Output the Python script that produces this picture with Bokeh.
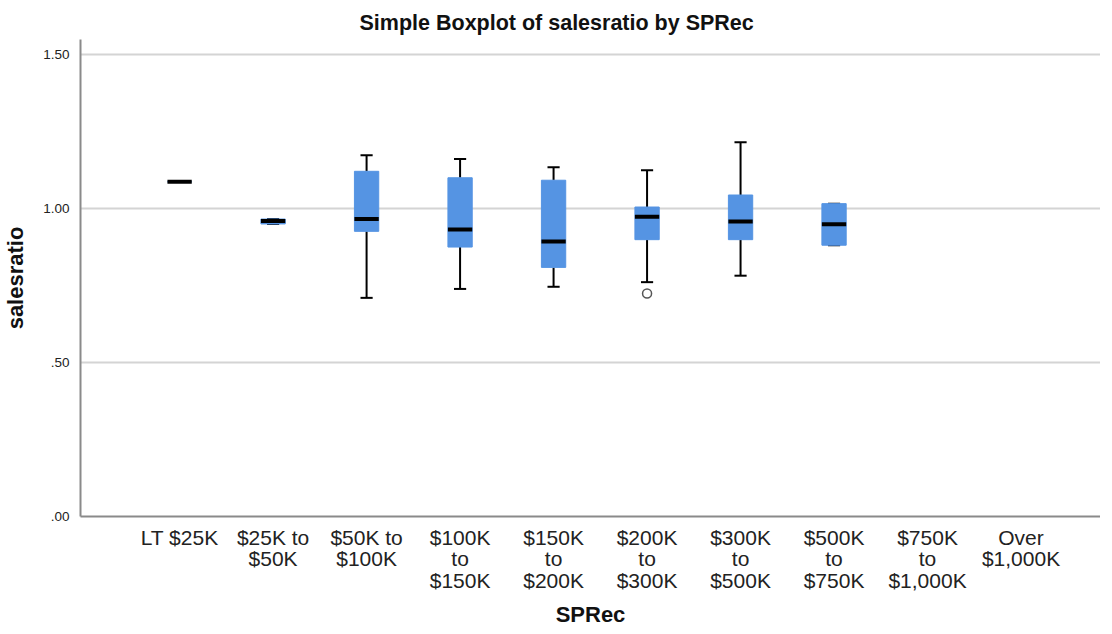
from bokeh.plotting import figure
from bokeh.models import Range1d, FixedTicker, ColumnDataSource
from bokeh.transform import dodge
from bokeh.embed import file_html
from bokeh.resources import INLINE

# ---- data ----
categories = ["LT $25K", "$25K to\n$50K", "$50K to\n$100K", "$100K\nto\n$150K",
              "$150K\nto\n$200K", "$200K\nto\n$300K", "$300K\nto\n$500K",
              "$500K\nto\n$750K", "$750K\nto\n$1,000K", "Over\n$1,000K"]
nan = float("nan")
lower_whisker = [1.087, 0.950, 0.710, 0.739, 0.746, 0.761, 0.782, 0.881, nan, nan]
q1            = [1.087, 0.950, 0.926, 0.875, 0.809, 0.899, 0.899, 0.881, nan, nan]
median        = [1.087, 0.960, 0.966, 0.932, 0.893, 0.973, 0.958, 0.949, nan, nan]
q3            = [1.087, 0.966, 1.121, 1.100, 1.092, 1.005, 1.044, 1.016, nan, nan]
upper_whisker = [1.087, 0.966, 1.173, 1.161, 1.134, 1.124, 1.215, 1.016, nan, nan]
outlier_cat = [6]
outlier_val = [0.724]

xs = list(range(1, len(categories) + 1))
box_w = 0.26
cap_w = 0.13

p = figure(frame_width=1020, frame_height=477, output_backend="svg", toolbar_location=None,
           x_range=Range1d(-0.06, 10.85), y_range=Range1d(0, 1.549),
           min_border_left=75, min_border_top=39, min_border_bottom=98, min_border_right=0)
p.outline_line_color = None
p.background_fill_color = "white"
p.border_fill_color = "white"

# title
p.title.text = "Simple Boxplot of salesratio by SPRec"
p.title.align = "left"
p.title.offset = 279
p.title.text_font = "Liberation Sans"
p.title.text_font_size = "21.5px"
p.title.text_font_style = "bold"
p.title.text_color = "#111111"

# axes
p.xaxis.ticker = FixedTicker(ticks=xs)
p.xaxis.major_label_overrides = {x: c for x, c in zip(xs, categories)}
p.yaxis.ticker = FixedTicker(ticks=[0, 0.5, 1.0, 1.5])
p.yaxis.major_label_overrides = {0: ".00", 0.5: ".50", 1.0: "1.00", 1.5: "1.50"}
for ax in (p.xaxis, p.yaxis):
    ax.axis_line_color = "#8a8a8a"
    ax.axis_line_width = 2
    ax.major_tick_line_color = None
    ax.minor_tick_line_color = None
    ax.major_label_text_font = "Liberation Sans"
    ax.major_label_text_color = "#222222"
    ax.axis_label_text_font = "Liberation Sans"
    ax.axis_label_text_font_style = "bold"
    ax.axis_label_text_color = "#111111"
    ax.axis_label_text_font_size = "22px"
p.xaxis.major_label_text_font_size = "21px"
p.xaxis.major_label_text_line_height = 0.95
p.xaxis.major_label_standoff = 3
p.xaxis.axis_label = "SPRec"
p.xaxis.axis_label_standoff = 7
p.yaxis.major_label_text_font_size = "13.5px"
p.yaxis.major_label_standoff = 5
p.yaxis.axis_label = "salesratio"
p.yaxis.axis_label_standoff = 12

p.xgrid.grid_line_color = None
p.ygrid.grid_line_color = "#d4d4d4"
p.ygrid.grid_line_width = 2

src = ColumnDataSource(dict(x=xs, lw=lower_whisker, q1=q1, med=median, q3=q3, uw=upper_whisker))

# whiskers
p.segment(x0="x", y0="q3", x1="x", y1="uw", source=src, line_color="black", line_width=2)
p.segment(x0="x", y0="lw", x1="x", y1="q1", source=src, line_color="black", line_width=2)
# caps
p.segment(x0=dodge("x", -cap_w / 2), y0="uw", x1=dodge("x", cap_w / 2), y1="uw", source=src,
          line_color="black", line_width=2)
p.segment(x0=dodge("x", -cap_w / 2), y0="lw", x1=dodge("x", cap_w / 2), y1="lw", source=src,
          line_color="black", line_width=2)
# boxes
p.vbar(x="x", width=box_w, bottom="q1", top="q3", source=src,
       fill_color="#5594E3", line_color="#5594E3", line_width=1)
# medians
p.segment(x0=dodge("x", -box_w / 2), y0="med", x1=dodge("x", box_w / 2), y1="med", source=src,
          line_color="black", line_width=4)
# outliers
p.scatter(x=outlier_cat, y=outlier_val, marker="circle", size=9, fill_color=None,
          line_color="#555555", line_width=1.5)

open("out.html", "w").write(file_html(p, INLINE))
